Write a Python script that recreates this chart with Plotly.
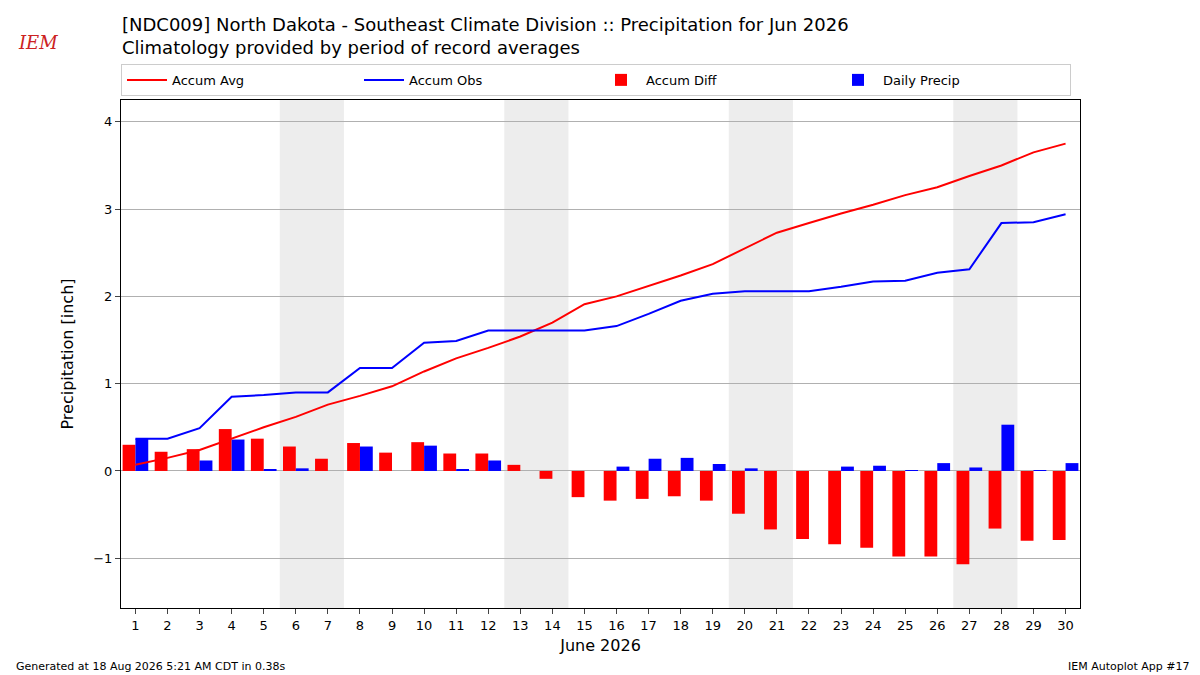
import plotly.graph_objects as go

days = list(range(1, 31))
accum_avg = [0.07,0.15,0.24,0.37,0.50,0.62,0.76,0.86,0.97,1.14,1.29,1.41,1.54,1.70,1.91,2.00,2.12,2.24,2.37,2.55,2.73,2.84,2.95,3.05,3.16,3.25,3.38,3.50,3.65,3.75]
accum_obs = [0.37,0.37,0.49,0.85,0.87,0.90,0.90,1.18,1.18,1.47,1.49,1.61,1.61,1.61,1.61,1.66,1.80,1.95,2.03,2.06,2.06,2.06,2.11,2.17,2.18,2.27,2.31,2.84,2.85,2.94]
accum_diff = [0.30,0.22,0.25,0.48,0.37,0.28,0.14,0.32,0.21,0.33,0.20,0.20,0.07,-0.09,-0.30,-0.34,-0.32,-0.29,-0.34,-0.49,-0.67,-0.78,-0.84,-0.88,-0.98,-0.98,-1.07,-0.66,-0.80,-0.79]
daily = [0.37,0,0.12,0.36,0.02,0.03,0,0.28,0,0.29,0.02,0.12,0,0,0,0.05,0.14,0.15,0.08,0.03,0,0,0.05,0.06,0.01,0.09,0.04,0.53,0.01,0.09]
weekend_starts = [6, 13, 20, 27]

F = "DejaVu Sans"
fig = go.Figure()
fig.add_trace(go.Scatter(x=days, y=accum_avg, mode="lines", name="Accum Avg", line=dict(color="red", width=2)))
fig.add_trace(go.Scatter(x=days, y=accum_obs, mode="lines", name="Accum Obs", line=dict(color="blue", width=2)))
fig.add_trace(go.Bar(x=days, y=accum_diff, name="Accum Diff", marker=dict(color="red", line_width=0), width=0.4, offset=-0.4))
fig.add_trace(go.Bar(x=days, y=daily, name="Daily Precip", marker=dict(color="blue", line_width=0), width=0.4, offset=0))

for d in weekend_starts:
    fig.add_shape(type="rect", xref="x", yref="paper", x0=d-0.5, x1=d+1.5, y0=0, y1=1,
                  fillcolor="#ededed", line_width=0, layer="below")

fig.update_layout(
    width=1192, height=667, plot_bgcolor="white", paper_bgcolor="white",
    margin=dict(l=113, r=120, t=92, b=67),
    font=dict(family=F, size=14, color="black"),
    barmode="overlay", showlegend=True,
    legend=dict(orientation="h", x=0, y=1.008, xanchor="left", yanchor="bottom",
                entrywidth=182, entrywidthmode="pixels", bordercolor="#cccccc", borderwidth=1,
                font=dict(size=13), traceorder="normal", itemwidth=40),
    xaxis=dict(range=[0.55, 30.45], tickvals=days, ticks="outside", showline=True, linecolor="black",
               mirror=True, showgrid=False, zeroline=False, title=dict(text="June 2026", font=dict(size=16), standoff=8),
               tickfont=dict(size=13)),
    yaxis=dict(range=[-1.57, 4.25], tickvals=[-1, 0, 1, 2, 3, 4], ticktext=["−1", "0", "1", "2", "3", "4"],
               ticks="outside", showline=True, linecolor="black", mirror=True, showgrid=True, gridcolor="#b0b0b0",
               zeroline=False, title=dict(text="Precipitation [inch]", font=dict(size=16)), tickfont=dict(size=13)),
)
fig.add_annotation(text="[NDC009] North Dakota - Southeast Climate Division :: Precipitation for Jun 2026<br>Climatology provided by period of record averages",
                   xref="paper", yref="paper", x=-0.001, y=1.0, yshift=88, xanchor="left", yanchor="top",
                   align="left", showarrow=False, font=dict(size=18))
fig.add_annotation(text="<i>IEM</i>", xref="paper", yref="paper", x=-0.11, y=1.0, yshift=70, xanchor="left", yanchor="top",
                   showarrow=False, font=dict(size=18, color="#cc2222", family="DejaVu Serif"))
fig.add_annotation(text="Generated at 18 Aug 2026 5:21 AM CDT in 0.38s", xref="paper", yref="paper", x=-0.112, y=0, yshift=-50,
                   xanchor="left", yanchor="top", showarrow=False, font=dict(size=11))
fig.add_annotation(text="IEM Autoplot App #17", xref="paper", yref="paper", x=1.117, y=0, yshift=-50,
                   xanchor="right", yanchor="top", showarrow=False, font=dict(size=11))
fig.write_html("out.html")
